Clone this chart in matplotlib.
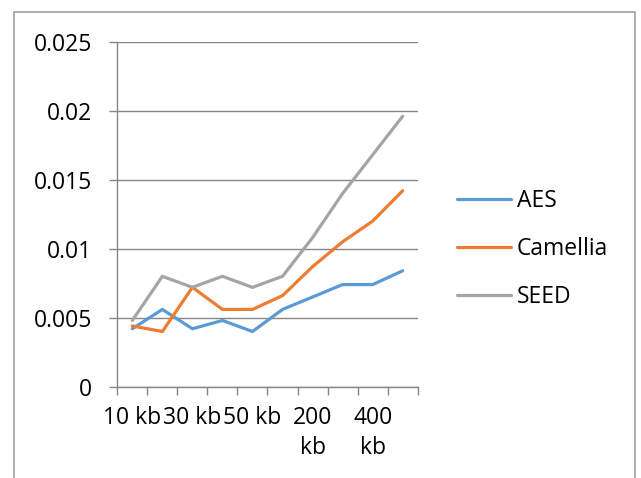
import matplotlib.pyplot as plt
from matplotlib.patches import Rectangle

sizes = ['10 kb', '20 kb', '30 kb', '40 kb', '50 kb', '100 kb', '200 kb', '300 kb', '400 kb', '500 kb']
shown_labels = ['10 kb', '', '30 kb', '', '50 kb', '', '200\nkb', '', '400\nkb', '']
aes = [0.0042, 0.0056, 0.0042, 0.0048, 0.0040, 0.0056, 0.0065, 0.0074, 0.0074, 0.0084]
camellia = [0.0044, 0.0040, 0.0072, 0.0056, 0.0056, 0.0066, 0.0087, 0.0105, 0.0120, 0.0142]
seed = [0.0048, 0.0080, 0.0072, 0.0080, 0.0072, 0.0080, 0.0108, 0.0140, 0.0168, 0.0196]
y_ticks = [0, 0.005, 0.01, 0.015, 0.02, 0.025]
y_labels = ['0', '0.005', '0.01', '0.015', '0.02', '0.025']

plt.rcParams['font.family'] = ['Open Sans', 'DejaVu Sans']
grid_col = '#868686'
fs = 16.5

fig = plt.figure(figsize=(6.41, 4.78), dpi=100)
ax = fig.add_axes([117.3 / 641, 1 - 386.7 / 478, 300.4 / 641, 345 / 478])

x = list(range(len(sizes)))
ax.plot(x, aes, color='#5B9BD5', lw=2.3, label='AES', solid_capstyle='round')
ax.plot(x, camellia, color='#ED7D31', lw=2.3, label='Camellia', solid_capstyle='round')
ax.plot(x, seed, color='#A5A5A5', lw=2.3, label='SEED', solid_capstyle='round')

ax.set_xlim(-0.5, len(sizes) - 0.5)
ax.set_ylim(0, 0.025)
ax.set_yticks(y_ticks)
ax.set_yticklabels(y_labels, fontsize=fs)
ax.set_xticks(x)
ax.set_xticklabels(shown_labels, fontsize=fs, linespacing=1.35, va='top')
ax.set_xticks([i - 0.5 for i in range(len(sizes) + 1)], minor=True)
ax.tick_params(axis='x', which='major', length=0, pad=14)
ax.tick_params(axis='x', which='minor', length=6, color=grid_col, width=1)
ax.tick_params(axis='y', length=6, color=grid_col, width=1, pad=12)

ax.grid(axis='y', color=grid_col, lw=1)
ax.set_axisbelow(True)
for side in ['top', 'right']:
    ax.spines[side].set_visible(False)
for side in ['left', 'bottom']:
    ax.spines[side].set_color(grid_col)
    ax.spines[side].set_linewidth(1)

fig.legend(loc='center left', bbox_to_anchor=(457 / 641, 1 - 249 / 478),
           frameon=False, fontsize=fs, handlelength=2.35, handletextpad=0.25,
           labelspacing=1.05, borderpad=0, borderaxespad=0)

# outer chart border
fig.patches.append(Rectangle((14 / 641, -0.1), 621 / 641, 1.1 - 12 / 478,
                             transform=fig.transFigure, fill=False,
                             edgecolor='#A0A0A0', lw=1.2))

fig.savefig('out.png', dpi=100)
